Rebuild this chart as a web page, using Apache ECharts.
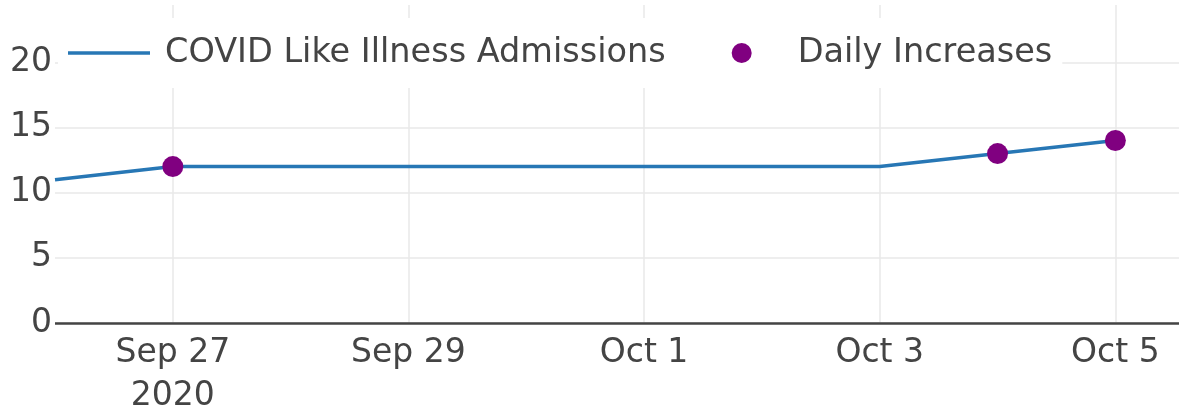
<!DOCTYPE html>
<html>
<head>
<meta charset="utf-8">
<script src="https://cdn.jsdelivr.net/npm/echarts@6/dist/echarts.min.js"></script>
<style>
  html, body { margin: 0; padding: 0; background: #fff; }
  #chart { width: 1179px; height: 409px; }
</style>
</head>
<body>
<div id="chart"></div>
<script>
// data
var dates = ['2020-09-26', '2020-09-27', '2020-09-28', '2020-09-29', '2020-09-30',
             '2020-10-01', '2020-10-02', '2020-10-03', '2020-10-04', '2020-10-05']
var admissions = [11, 12, 12, 12, 12, 12, 12, 12, 13, 14]
var increaseDates = ['2020-09-27', '2020-10-04', '2020-10-05']
var increaseValues = [12, 13, 14]
var tickDates = ['2020-09-27', '2020-09-29', '2020-10-01', '2020-10-03', '2020-10-05']

var months = ['Jan', 'Feb', 'Mar', 'Apr', 'May', 'Jun', 'Jul', 'Aug', 'Sep', 'Oct', 'Nov', 'Dec']
var DAY = 86400000

function toTime(s) {
    var p = s.split('-')
    return Date.UTC(+p[0], +p[1] - 1, +p[2])
}

var tickTimes = tickDates.map(toTime)
var lineData = dates.map(function (d, i) { return [toTime(d), admissions[i]] })
var dotData = increaseDates.map(function (d, i) { return [toTime(d), increaseValues[i]] })

var font = 'DejaVu Sans'
var textColor = '#444'

var myChart = echarts.init(document.getElementById('chart'))

myChart.setOption({
    animation: false,
    textStyle: { fontFamily: font },
    grid: { left: 55, right: 0, top: 5, bottom: 86, outerBoundsMode: 'none', containLabel: false },
    legend: {
        left: 58,
        top: 18,
        padding: [18, 10, 18, 10],
        backgroundColor: '#fff',
        itemWidth: 82,
        itemHeight: 20,
        itemGap: 66,
        textStyle: { fontSize: 33.5, color: textColor, fontFamily: font, padding: [0, 0, 0, 10] },
        data: [
            { name: 'COVID Like Illness Admissions', icon: 'path://M0,0 L82,0 L82,3.5 L0,3.5 Z', itemStyle: { color: '#2777b5' } },
            { name: 'Daily Increases', icon: 'circle', itemStyle: { color: '#800080', opacity: 1 } }
        ]
    },
    xAxis: {
        type: 'value',
        min: toTime('2020-09-26'),
        max: toTime('2020-10-05') + 0.54 * DAY,
        axisLine: { show: false },
        axisTick: { show: false, customValues: tickTimes },
        splitLine: { show: true, lineStyle: { color: '#e8e8e8', width: 1.5 } },
        axisLabel: {
            customValues: tickTimes,
            fontSize: 33,
            color: textColor,
            margin: 9,
            lineHeight: 43,
            formatter: function (v) {
                var d = new Date(v)
                var s = months[d.getUTCMonth()] + ' ' + d.getUTCDate()
                if (d.getUTCMonth() === 8 && d.getUTCDate() === 27) s += '\n2020'
                return s
            }
        }
    },
    yAxis: {
        type: 'value',
        min: 0,
        max: 24.4,
        interval: 5,
        axisLine: { show: false },
        axisTick: { show: false },
        splitLine: { showMaxLine: false, lineStyle: { color: '#e8e8e8', width: 1.5 } },
        axisLabel: {
            fontSize: 33,
            color: textColor,
            margin: 3,
            showMaxLabel: false
        }
    },
    series: [
        {
            name: 'COVID Like Illness Admissions',
            type: 'line',
            data: lineData,
            showSymbol: false,
            symbol: 'none',
            lineStyle: { color: '#2777b5', width: 3.5 },
            itemStyle: { color: '#2777b5' },
            markLine: {
                silent: true,
                symbol: 'none',
                label: { show: false },
                lineStyle: { color: '#444', width: 2.5, type: 'solid' },
                data: [{ yAxis: 0 }]
            },
            z: 2
        },
        {
            name: 'Daily Increases',
            type: 'scatter',
            data: dotData,
            symbol: 'circle',
            symbolSize: 21,
            itemStyle: { color: '#800080', opacity: 1 },
            z: 3
        }
    ]
})
</script>
</body>
</html>
